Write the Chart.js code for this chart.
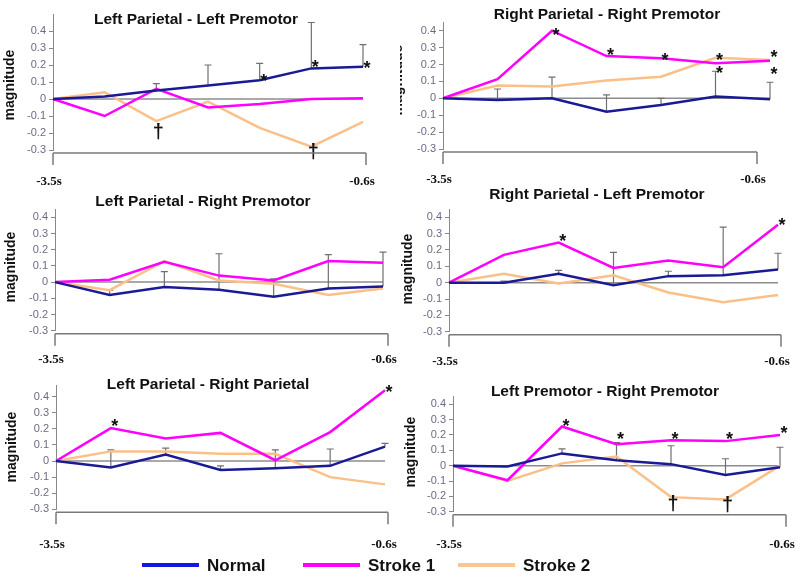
<!DOCTYPE html>
<html>
<head>
<meta charset="utf-8">
<script src="https://cdn.jsdelivr.net/npm/chart.js@4.4.1/dist/chart.umd.min.js"></script>
<style>
body { margin: 0; background: #fff; }
#wrap { position: relative; width: 800px; height: 582px; overflow: hidden; }
#wrap canvas { position: absolute; left: 0; top: 0; }
.leg-text { position: absolute; top: 555px; font: bold 17px Arial, "Liberation Sans", sans-serif; color: #111; line-height: 22px; }
.leg-line { position: absolute; top: 563px; height: 4px; }
</style>
</head>
<body>
<div id="wrap">
  <canvas id="c0" width="800" height="582"></canvas>
  <canvas id="c1" width="800" height="582"></canvas>
  <canvas id="c2" width="800" height="582"></canvas>
  <canvas id="c3" width="800" height="582"></canvas>
  <canvas id="c4" width="800" height="582"></canvas>
  <canvas id="c5" width="800" height="582"></canvas>
  <div id="legend"></div>
</div>
<script>
// eje de tiempo y ticks
var timeLabels = ['-3.5s', '', '', '', '', '', '-0.6s'];
var yTicks = [-0.3, -0.2, -0.1, 0, 0.1, 0.2, 0.3, 0.4];
var seriesNames = ['Normal', 'Stroke 1', 'Stroke 2'];
var seriesColors = ['#1a1a96', '#ff00ff', '#fbc088'];
var legendColors = ['#1515e6', '#ff00ff', '#fcc490'];

// Left Parietal - Left Premotor
var lplmNormal = [0, 0.015, 0.05, 0.08, 0.11, 0.18, 0.19];
var lplmStroke1 = [0, -0.1, 0.06, -0.05, -0.03, 0.0, 0.005];
var lplmStroke2 = [0, 0.04, -0.13, -0.015, -0.17, -0.28, -0.135];
var lplmErr = [null, null, 0.09, 0.2, 0.21, 0.45, 0.32];
var lplmMarks = [[4, 0.125, '*'], [5, 0.205, '*'], [6, 0.2, '*'], [2, -0.19, '†'], [5, -0.31, '†']];

// Right Parietal - Right Premotor
var rprmNormal = [0, -0.01, 0.0, -0.08, -0.04, 0.01, -0.005];
var rprmStroke1 = [0, 0.113, 0.4, 0.25, 0.237, 0.207, 0.222];
var rprmStroke2 = [0, 0.075, 0.07, 0.105, 0.128, 0.24, 0.227];
var rprmErr = [null, 0.055, 0.125, 0.02, 0.0, 0.16, 0.095];
var rprmMarks = [[2, 0.395, '*'], [3, 0.276, '*'], [4, 0.242, '*'], [5, 0.242, '*'], [5, 0.167, '*'], [6, 0.26, '*'], [6, 0.16, '*']];

// Left Parietal - Right Premotor
var lprmNormal = [0, -0.08, -0.03, -0.047, -0.09, -0.04, -0.027];
var lprmStroke1 = [0, 0.015, 0.125, 0.04, 0.01, 0.13, 0.12];
var lprmStroke2 = [0, -0.05, 0.13, 0.01, -0.01, -0.08, -0.04];
var lprmErr = [null, -0.05, 0.065, 0.175, 0.02, 0.17, 0.185];
var lprmMarks = [];

// Right Parietal - Left Premotor
var rplmNormal = [0, 0.0, 0.055, -0.015, 0.04, 0.045, 0.08];
var rplmStroke1 = [0, 0.17, 0.245, 0.09, 0.135, 0.095, 0.355];
var rplmStroke2 = [0, 0.055, -0.005, 0.045, -0.06, -0.12, -0.075];
var rplmErr = [null, 0.01, 0.075, 0.185, 0.07, 0.34, 0.18];
var rplmMarks = [[2, 0.275, '*'], [6, 0.37, '*']];

// Left Parietal - Right Parietal
var lprpNormal = [0, -0.04, 0.04, -0.055, -0.045, -0.03, 0.09];
var lprpStroke1 = [0, 0.205, 0.14, 0.175, 0.005, 0.18, 0.44];
var lprpStroke2 = [0, 0.06, 0.06, 0.045, 0.045, -0.1, -0.145];
var lprpErr = [null, 0.07, 0.08, -0.03, 0.07, 0.075, 0.11];
var lprpMarks = [[1, 0.235, '*'], [6, 0.45, '*']];

// Left Premotor - Right Premotor
var lmrmNormal = [0, -0.005, 0.08, 0.035, 0.01, -0.06, -0.01];
var lmrmStroke1 = [0, -0.095, 0.255, 0.14, 0.165, 0.16, 0.2];
var lmrmStroke2 = [0, -0.1, 0.015, 0.06, -0.205, -0.22, 0.0];
var lmrmErr = [null, null, 0.11, 0.15, 0.13, 0.045, 0.12];
var lmrmMarks = [[2, 0.275, '*'], [3, 0.195, '*'], [4, 0.195, '*'], [5, 0.19, '*'], [6, 0.23, '*'], [4, -0.245, '†'], [5, -0.255, '†']];

// Posición de cada panel en la figura
var panels = [
  { title: 'Left Parietal - Left Premotor', series: [lplmNormal, lplmStroke1, lplmStroke2], err: lplmErr, marks: lplmMarks,
    box: { left: 53, right: 363, y03: 150, y04: 31, max: 0.5, axisEnd: 366, titleX: 196, titleY: 20, magX: 10, magY: 85, labelY: 182 } },
  { title: 'Right Parietal - Right Premotor', series: [rprmNormal, rprmStroke1, rprmStroke2], err: rprmErr, marks: rprmMarks,
    box: { left: 443, right: 770, y03: 149, y04: 30.7, max: 0.45, axisEnd: 757, titleX: 607, titleY: 15, magX: 398, magY: 80, labelY: 180, clipMag: 400 } },
  { title: 'Left Parietal - Right Premotor', series: [lprmNormal, lprmStroke1, lprmStroke2], err: lprmErr, marks: lprmMarks,
    box: { left: 55, right: 383, y03: 330.7, y04: 217.3, max: 0.45, axisEnd: 388, titleX: 203, titleY: 202, magX: 11, magY: 267, labelY: 360 } },
  { title: 'Right Parietal - Left Premotor', series: [rplmNormal, rplmStroke1, rplmStroke2], err: rplmErr, marks: rplmMarks,
    box: { left: 449, right: 778, y03: 331.7, y04: 217.3, max: 0.45, axisEnd: 781, titleX: 597, titleY: 195, magX: 408, magY: 269, labelY: 362 } },
  { title: 'Left Parietal - Right Parietal', series: [lprpNormal, lprpStroke1, lprpStroke2], err: lprpErr, marks: lprpMarks,
    box: { left: 56, right: 385, y03: 509.3, y04: 396.7, max: 0.47, axisEnd: 388, titleX: 208, titleY: 385, magX: 12, magY: 447, labelY: 545 } },
  { title: 'Left Premotor - Right Premotor', series: [lmrmNormal, lmrmStroke1, lmrmStroke2], err: lmrmErr, marks: lmrmMarks,
    box: { left: 453, right: 780, y03: 511.7, y04: 404.3, max: 0.45, axisEnd: 786, titleX: 605, titleY: 392, magX: 411, magY: 452, labelY: 545 } }
];

// Plugin para dibujar título, barras de error, marcas y eje inferior
function crearDecorado(p) {
  var b = p.box;
  return {
    id: 'decorado',
    beforeDatasetsDraw: function(chart) {
      var ctx = chart.ctx, ca = chart.chartArea, x = chart.scales.x, y = chart.scales.y;
      ctx.save();
      // línea del cero
      var y0 = y.getPixelForValue(0);
      ctx.strokeStyle = '#8c8c8c';
      ctx.lineWidth = 1.5;
      ctx.beginPath();
      ctx.moveTo(ca.left, y0);
      ctx.lineTo(ca.right, y0);
      ctx.stroke();
      // barras de error (solo hacia arriba)
      ctx.strokeStyle = '#707070';
      ctx.lineWidth = 1.2;
      for (var i = 0; i < p.err.length; i++) {
        if (p.err[i] === null) continue;
        var px = x.getPixelForValue(i);
        var ya = y.getPixelForValue(p.series[0][i]);
        var yb = y.getPixelForValue(p.err[i]);
        ctx.beginPath();
        ctx.moveTo(px, ya);
        ctx.lineTo(px, yb);
        ctx.moveTo(px - 3.5, yb);
        ctx.lineTo(px + 3.5, yb);
        ctx.stroke();
      }
      ctx.restore();
    },
    afterDatasetsDraw: function(chart) {
      var ctx = chart.ctx, ca = chart.chartArea, x = chart.scales.x, y = chart.scales.y;
      ctx.save();
      // marcas de significancia
      ctx.fillStyle = '#111';
      ctx.textAlign = 'center';
      ctx.textBaseline = 'middle';
      p.marks.forEach(function(m) {
        var px = x.getPixelForValue(m[0]);
        var py = y.getPixelForValue(m[1]);
        if (m[2] === '*') {
          ctx.font = 'bold 18px Arial, "Liberation Sans", sans-serif';
          ctx.fillText('*', px + 4, py + 4);
        } else {
          ctx.font = 'bold 20px Arial, "Liberation Sans", sans-serif';
          ctx.fillText('†', px + 2, py + 1);
        }
      });
      // título
      ctx.font = 'bold 15.5px Arial, "Liberation Sans", sans-serif';
      ctx.fillText(p.title, b.titleX, b.titleY);
      // eje inferior
      var yb = ca.bottom + 3;
      ctx.strokeStyle = '#7a7a7a';
      ctx.lineWidth = 1.5;
      ctx.beginPath();
      ctx.moveTo(ca.left, yb);
      ctx.lineTo(b.axisEnd, yb);
      ctx.moveTo(ca.left, yb);
      ctx.lineTo(ca.left, yb + 12);
      ctx.moveTo(b.axisEnd, yb);
      ctx.lineTo(b.axisEnd, yb + 12);
      ctx.stroke();
      ctx.font = 'bold 13px "Liberation Serif", "Times New Roman", serif';
      ctx.fillText(timeLabels[0], ca.left - 4, b.labelY);
      ctx.fillText(timeLabels[timeLabels.length - 1], b.axisEnd - 4, b.labelY);
      // etiqueta del eje y
      if (b.clipMag) {
        ctx.beginPath();
        ctx.rect(b.clipMag, 0, 40, 582);
        ctx.clip();
      }
      ctx.translate(b.magX, b.magY);
      ctx.rotate(-Math.PI / 2);
      ctx.font = 'bold 14px Arial, "Liberation Sans", sans-serif';
      ctx.fillText('magnitude', 0, 0);
      ctx.restore();
    }
  };
}

// Crear las seis gráficas
panels.forEach(function(p, k) {
  var b = p.box;
  var unidad = (b.y03 - b.y04) / 0.7;
  var top = b.y03 - (b.max + 0.3) * unidad;
  var ctx = document.getElementById('c' + k).getContext('2d');
  new Chart(ctx, {
    type: 'line',
    data: {
      labels: timeLabels,
      datasets: p.series.map(function(s, j) {
        return {
          label: seriesNames[j],
          data: s,
          borderColor: seriesColors[j],
          backgroundColor: seriesColors[j],
          borderWidth: 2.5,
          pointRadius: 0,
          tension: 0,
          fill: false
        };
      })
    },
    options: {
      responsive: false,
      animation: false,
      events: [],
      layout: { padding: { left: b.left - 40, right: 800 - b.right, top: top, bottom: 582 - b.y03 } },
      plugins: {
        legend: { display: false },
        tooltip: { enabled: false },
        title: { display: false }
      },
      scales: {
        x: { display: false, offset: false },
        y: {
          min: -0.3,
          max: b.max,
          afterBuildTicks: function(scale) {
            scale.ticks = yTicks.map(function(v) { return { value: v }; });
          },
          afterFit: function(scale) { scale.width = 40; },
          grid: { display: true, drawOnChartArea: false, drawTicks: true, tickLength: 4, color: '#888' },
          border: { display: true, color: '#888', width: 1 },
          ticks: { font: { size: 11, family: 'Arial, "Liberation Sans", sans-serif' }, color: '#6e6a85', padding: 3 }
        }
      }
    },
    plugins: [crearDecorado(p)]
  });
});

// Leyenda
var legendPos = [[142, 207], [303, 368], [458, 523]];
var legend = document.getElementById('legend');
seriesNames.forEach(function(n, j) {
  var linea = document.createElement('div');
  linea.className = 'leg-line';
  linea.style.left = legendPos[j][0] + 'px';
  linea.style.width = '57px';
  linea.style.background = legendColors[j];
  legend.appendChild(linea);
  var texto = document.createElement('div');
  texto.className = 'leg-text';
  texto.style.left = legendPos[j][1] + 'px';
  texto.textContent = n;
  legend.appendChild(texto);
});
</script>
</body>
</html>
